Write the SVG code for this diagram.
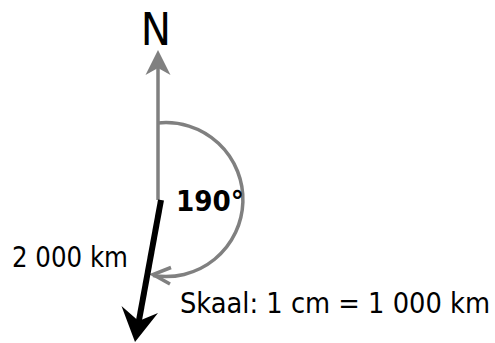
<svg xmlns="http://www.w3.org/2000/svg" width="495" height="343" viewBox="0 0 495 343">
<style>
.t{font-family:"DejaVu Sans Condensed","DejaVu Sans",sans-serif;fill:#000}
.g{stroke:#808080;stroke-width:3.5;fill:none}
</style>
<rect width="495" height="343" fill="#fff"/>
<g id="connectors">
<line class="g" x1="158" y1="200" x2="158" y2="68"/>
<polygon points="158,50 170.5,75 158,68 145.5,75" fill="#808080"/>
<path class="g" d="M158,123 A77,77 0 1 1 153,275.5"/>
<polyline class="g" points="171,267.5 153,274.5 170,284" stroke-linejoin="miter"/>
<line x1="161" y1="200" x2="138.5" y2="323" stroke="#000" stroke-width="6"/>
<polygon points="135,342 121.5,306 138.6,321 158,313" fill="#000"/>
</g>
<g id="north"><text class="t" x="156" y="45" font-size="45" text-anchor="middle">N</text></g>
<g id="angle"><text class="t" x="176" y="211" font-size="28" font-weight="bold" textLength="68" lengthAdjust="spacingAndGlyphs">190°</text></g>
<g id="distance"><text class="t" x="12" y="267" font-size="27.5" textLength="116" lengthAdjust="spacingAndGlyphs">2 000 km</text></g>
<g id="scale"><text class="t" x="180" y="313" font-size="28.5" textLength="310" lengthAdjust="spacingAndGlyphs">Skaal: 1 cm = 1 000 km</text></g>
</svg>
